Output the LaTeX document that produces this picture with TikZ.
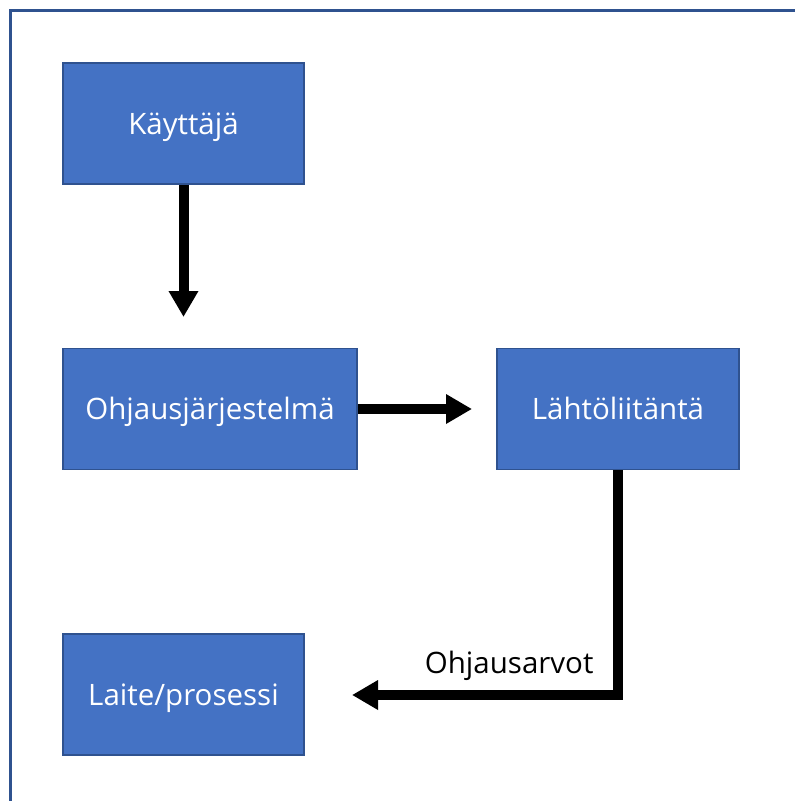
\documentclass[tikz,border=0pt]{standalone}
\usepackage{fontspec}
\setmainfont{Open Sans}
\usetikzlibrary{arrows.meta}
\definecolor{boxfill}{HTML}{4472C4}
\definecolor{boxline}{HTML}{2F528F}
\begin{document}
\begin{tikzpicture}[x=1pt,y=-1pt,
  blockbox/.style={draw=boxline,line width=1.5pt,fill=boxfill,text=white,
    minimum height=121pt,inner sep=0pt,text height=21pt,text depth=0pt,
    font=\fontsize{29.5}{34}\selectfont},
  flow/.style={line width=10pt,-{Triangle[width=28pt,length=26pt]}}]
\useasboundingbox[fill=white] (0,0) rectangle (795,801);
\draw[boxline,line width=2.5pt] (10.5,805) -- (10.5,10.5) -- (800,10.5);
\node[blockbox,minimum width=241pt] (user) at (183.5,123.5) {Käyttäjä};
\node[blockbox,minimum width=294pt] (ctrl) at (210,409) {Ohjausjärjestelmä};
\node[blockbox,minimum width=242pt] (out) at (618,409) {Lähtöliitäntä};
\node[blockbox,minimum width=241pt] (dev) at (183.5,694.5) {Laite/prosessi};
\coordinate (t1) at (183.5,317);
\coordinate (t2) at (472,409);
\coordinate (corner) at (618,695);
\coordinate (t3) at (352,695);
\draw[flow] (user.south) -- (t1);
\draw[flow] (ctrl.east) -- (t2);
\draw[flow,line cap=butt] (out.south) -- ([yshift=5pt]corner) -- (corner) -- (t3);
\node[font=\fontsize{29.5}{34}\selectfont,anchor=base east] (lbl) at (597,673) {Ohjausarvot};
\end{tikzpicture}
\end{document}
